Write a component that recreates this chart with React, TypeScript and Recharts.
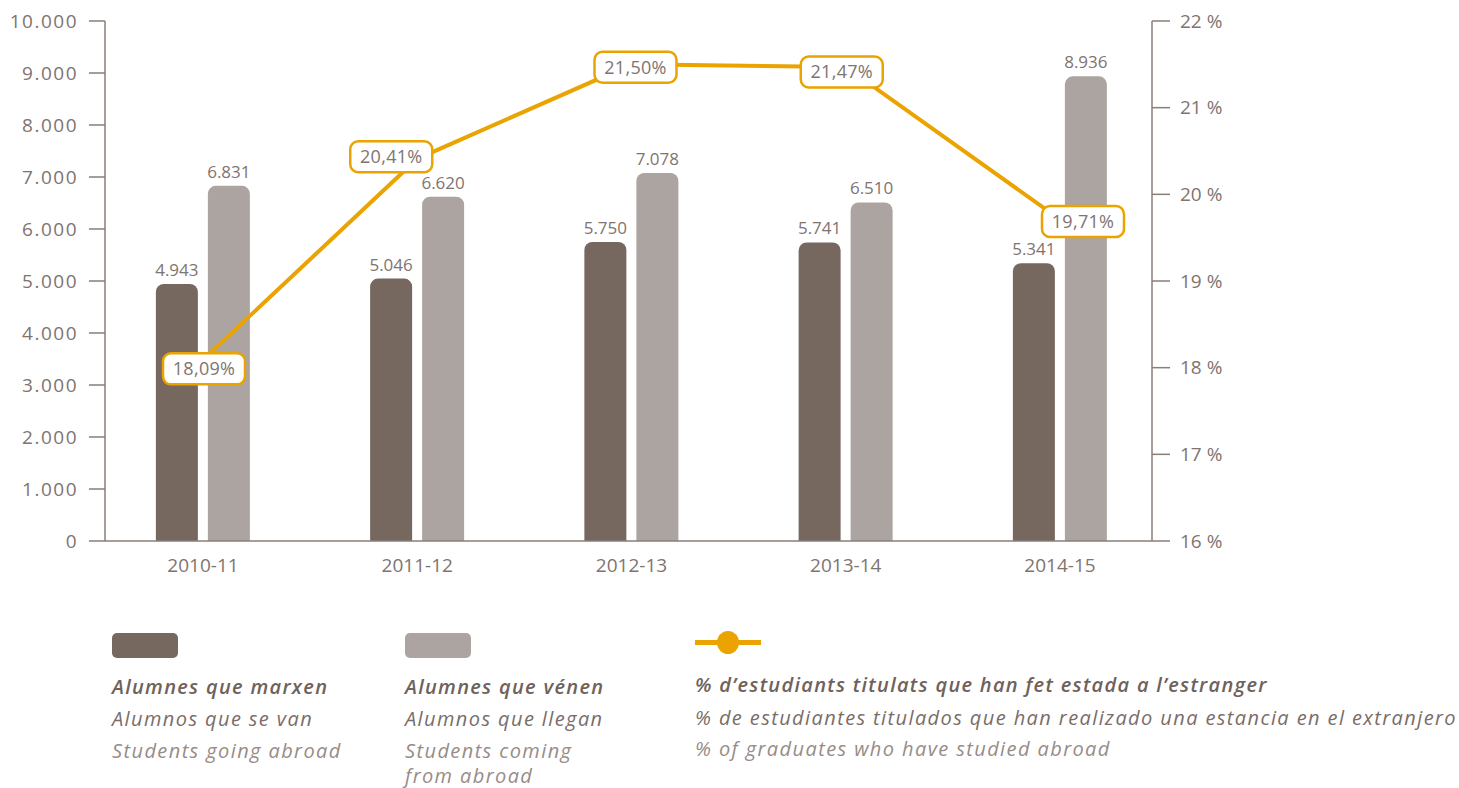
import React from 'react';
import { ComposedChart, Bar, Line, XAxis, YAxis, LabelList } from 'recharts';

const categories = ['2010-11', '2011-12', '2012-13', '2013-14', '2014-15'];
const goingAbroad = [4943, 5046, 5750, 5741, 5341];
const comingFromAbroad = [6831, 6620, 7078, 6510, 8936];
const graduatesPct = [18.09, 20.41, 21.5, 21.47, 19.71];
const leftTicks = [0, 1000, 2000, 3000, 4000, 5000, 6000, 7000, 8000, 9000, 10000];
const rightTicks = [16, 17, 18, 19, 20, 21, 22];
const categoryIndex = [0, 1, 2, 3, 4];

const labelOffsets = [[1, 9], [-26, -2], [4, 3], [-4, 5], [23, 2]];

const data = categories.map((c, i) => ({
  idx: categoryIndex[i],
  name: c,
  going: goingAbroad[i],
  coming: comingFromAbroad[i],
  pct: graduatesPct[i],
}));

const DARK = '#76675f';
const LIGHT = '#aca4a0';
const ORANGE = '#eaa300';
const AXIS = '#8a7e79';
const TEXT = '#807470';
const FONT = '"Open Sans", sans-serif';

const fmtThousands = (n: number) => String(n).replace(/\B(?=(\d{3})+(?!\d))/g, '.');
const fmtPct = (n: number) => n.toFixed(2).replace('.', ',') + '%';

const PctLabel = (props: any) => {
  const { x, y, value, index } = props;
  const off = labelOffsets[index] || [0, 0];
  const cx = x + off[0];
  const cy = y + off[1];
  const w = 82;
  const h = 31;
  return (
    <g>
      <rect x={cx - w / 2} y={cy - h / 2} width={w} height={h} rx={8} ry={8} fill="#fff" stroke={ORANGE} strokeWidth={2.5} />
      <text x={cx} y={cy} dy="0.36em" textAnchor="middle" fill={TEXT} fontSize={18} fontFamily={FONT} letterSpacing={0.3}>
        {fmtPct(value)}
      </text>
    </g>
  );
};

const tickStyle = { fill: TEXT, fontSize: 19, fontFamily: FONT };
const leftTickStyle = { fill: TEXT, fontSize: 19, fontFamily: FONT, letterSpacing: 1.5 };

export default function App() {
  const lineStyle = (top: number, left: number, weight: number, color: string): React.CSSProperties => ({
    position: 'absolute',
    top,
    left,
    fontSize: 20,
    fontWeight: weight,
    fontStyle: 'italic',
    letterSpacing: weight > 500 ? 1.3 : 1.4,
    color,
    whiteSpace: 'nowrap',
    lineHeight: '22px',
  });
  return (
    <div style={{ position: 'absolute', left: 0, top: 0, width: 1459, height: 788, fontFamily: FONT, background: '#fff', overflow: 'hidden' }}>
      <div style={{ position: 'absolute', left: 0, top: 0 }}>
        <ComposedChart width={1459} height={600} data={data} margin={{ top: 21, right: 0, bottom: 19, left: 0 }} barGap={10}>
          <XAxis
            dataKey="idx"
            type="number"
            domain={[-0.4574, 4.4294]}
            ticks={categoryIndex}
            allowDataOverflow
            tickFormatter={(v: number) => categories[v]}
            axisLine={{ stroke: AXIS, strokeWidth: 1.5 }}
            tickLine={false}
            tickSize={0}
            tickMargin={18}
            height={40}
            tick={tickStyle}
          />
          <YAxis
            yAxisId="left"
            domain={[0, 10000]}
            ticks={leftTicks}
            tickFormatter={fmtThousands}
            width={105}
            axisLine={{ stroke: AXIS, strokeWidth: 1.5 }}
            tickLine={{ stroke: AXIS, strokeWidth: 1.5 }}
            tickSize={16}
            tickMargin={11}
            tick={leftTickStyle}
            interval={0}
          />
          <YAxis
            yAxisId="right"
            orientation="right"
            domain={[16, 22]}
            ticks={rightTicks}
            tickFormatter={(v: number) => `${v} %`}
            width={307}
            axisLine={{ stroke: AXIS, strokeWidth: 1.5 }}
            tickLine={{ stroke: AXIS, strokeWidth: 1.5 }}
            tickSize={18}
            tickMargin={10}
            tick={tickStyle}
            interval={0}
          />
          <Bar yAxisId="left" dataKey="going" fill={DARK} barSize={42} radius={[8, 8, 0, 0]} isAnimationActive={false}>
            <LabelList dataKey="going" position="top" offset={8} formatter={(v: any) => fmtThousands(v)} fill={TEXT} fontSize={17} fontFamily={FONT} />
          </Bar>
          <Bar yAxisId="left" dataKey="coming" fill={LIGHT} barSize={42} radius={[8, 8, 0, 0]} isAnimationActive={false}>
            <LabelList dataKey="coming" position="top" offset={8} formatter={(v: any) => fmtThousands(v)} fill={TEXT} fontSize={17} fontFamily={FONT} />
          </Bar>
          <Line yAxisId="right" dataKey="pct" stroke={ORANGE} strokeWidth={4} dot={false} isAnimationActive={false} type="linear">
            <LabelList dataKey="pct" content={PctLabel} />
          </Line>
        </ComposedChart>
      </div>

      {/* Legend */}
      <div style={{ position: 'absolute', left: 112, top: 633, width: 66, height: 25, borderRadius: 5, background: DARK }} />
      <div style={{ position: 'absolute', left: 405, top: 633, width: 66, height: 25, borderRadius: 5, background: LIGHT }} />
      <div style={{ position: 'absolute', left: 695, top: 640, width: 66, height: 5, background: ORANGE }} />
      <div style={{ position: 'absolute', left: 717, top: 631, width: 22, height: 23, borderRadius: '50%', background: ORANGE }} />

      <div style={lineStyle(676, 112, 600, '#6f625c')}>Alumnes que marxen</div>
      <div style={lineStyle(708, 112, 400, '#7a6d68')}>Alumnos que se van</div>
      <div style={lineStyle(740, 112, 400, '#978c87')}>Students going abroad</div>

      <div style={lineStyle(676, 405, 600, '#6f625c')}>Alumnes que vénen</div>
      <div style={lineStyle(708, 405, 400, '#7a6d68')}>Alumnos que llegan</div>
      <div style={lineStyle(740, 405, 400, '#978c87')}>Students coming</div>
      <div style={lineStyle(765, 405, 400, '#978c87')}>from abroad</div>

      <div style={lineStyle(674, 695, 600, '#6f625c')}>% d’estudiants titulats que han fet estada a l’estranger</div>
      <div style={lineStyle(707, 695, 400, '#7a6d68')}>% de estudiantes titulados que han realizado una estancia en el extranjero</div>
      <div style={lineStyle(738, 695, 400, '#978c87')}>% of graduates who have studied abroad</div>
    </div>
  );
}
